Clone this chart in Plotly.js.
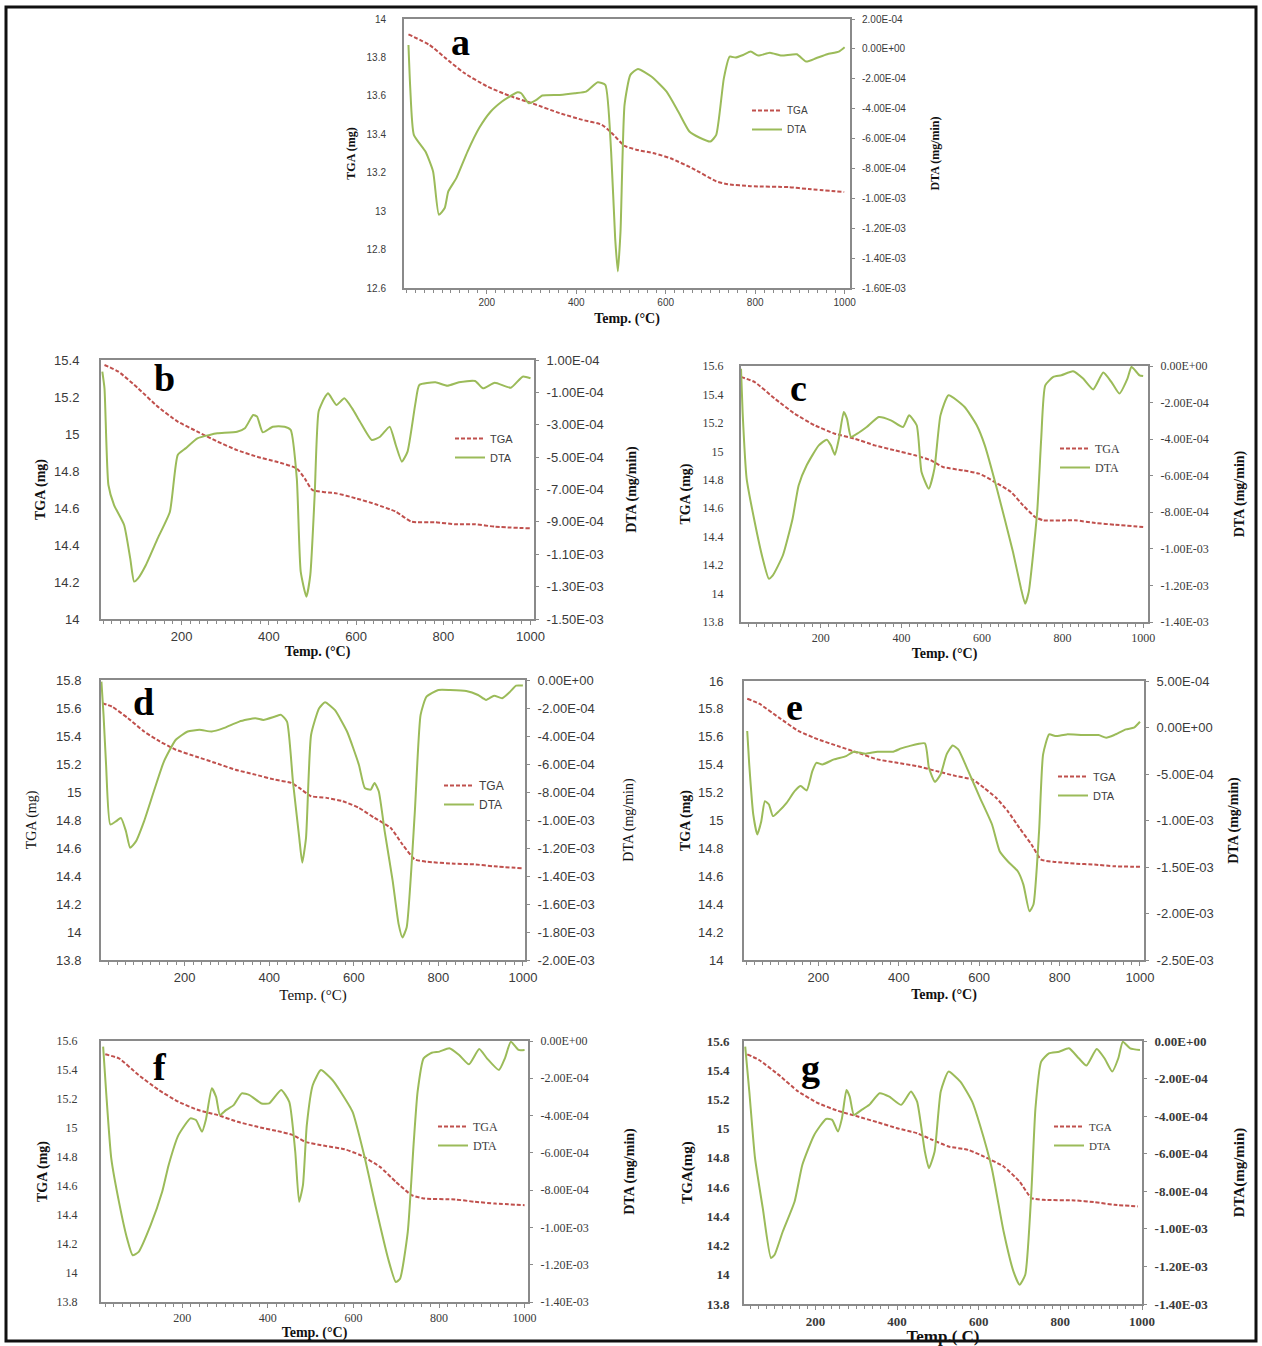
<!DOCTYPE html>
<html><head><meta charset="utf-8">
<script src="https://cdn.plot.ly/plotly-3.0.1.min.js"></script>
<style>html,body{margin:0;padding:0;background:#fff}</style>
</head><body><div id="chart" style="width:1262px;height:1346px"></div>
<script>
// ---------------- DATA ----------------
const xTickVals = [200, 400, 600, 800, 1000];

// a
const aTgaT = [25,72,106,149,200,251,303,363,414,457,478,508,534,576,611,662,713,739,790,876,919,999];
const aTga  = [13.92,13.865,13.80,13.72,13.65,13.60,13.56,13.51,13.475,13.45,13.41,13.34,13.32,13.30,13.275,13.22,13.155,13.14,13.13,13.125,13.115,13.10];
const aDtaT = [25,29,37,63,80,93,106,114,132,157,183,209,234,251,269,277,294,311,324,363,397,422,448,465,478,487,493,499,508,521,538,568,602,628,653,675,700,713,730,743,756,773,790,807,833,859,893,914,936,961,987,1000];
const aDta  = [2.6e-5,-2.63e-4,-5.75e-4,-6.87e-4,-8.2e-4,-1.11e-3,-1.065e-3,-9.54e-4,-8.65e-4,-6.87e-4,-5.3e-4,-4.19e-4,-3.52e-4,-3.19e-4,-2.9e-4,-2.97e-4,-3.64e-4,-3.41e-4,-3.12e-4,-3.08e-4,-2.97e-4,-2.86e-4,-2.23e-4,-2.41e-4,-6.87e-4,-1.266e-3,-1.489e-3,-1.222e-3,-3.75e-4,-1.74e-4,-1.34e-4,-1.85e-4,-2.86e-4,-4.19e-4,-5.53e-4,-5.93e-4,-6.2e-4,-5.75e-4,-1.97e-4,-5.2e-5,-5.8e-5,-4.1e-5,-1.8e-5,-4.5e-5,-2.5e-5,-4.5e-5,-3.6e-5,-8.5e-5,-6.3e-5,-3.6e-5,-1.8e-5,1.1e-5];
const aDtaTicks = [2e-4,0,-2e-4,-4e-4,-6e-4,-8e-4,-1e-3,-1.2e-3,-1.4e-3,-1.6e-3];

// b
const bTgaT = [23,55,100,145,191,236,282,327,373,418,464,482,500,555,600,645,691,727,782,827,873,918,1000];
const bTga  = [15.373,15.337,15.247,15.148,15.067,15.013,14.959,14.913,14.877,14.85,14.814,14.76,14.697,14.679,14.652,14.62,14.58,14.526,14.523,14.512,14.512,14.499,14.49];
const bDtaT = [18,23,32,45,68,82,91,100,118,145,173,191,209,236,264,282,327,345,364,373,386,409,436,450,464,473,486,495,505,514,527,536,555,573,591,609,636,655,677,691,705,718,736,745,782,809,836,873,891,918,955,982,1000];
const bDta  = [2.8e-5,-7.5e-5,-6.72e-4,-7.96e-4,-9.19e-4,-1.125e-3,-1.269e-3,-1.249e-3,-1.166e-3,-1.002e-3,-8.37e-4,-4.87e-4,-4.46e-4,-3.84e-4,-3.63e-4,-3.53e-4,-3.43e-4,-3.22e-4,-2.4e-4,-2.5e-4,-3.47e-4,-3.12e-4,-3.12e-4,-3.32e-4,-6.31e-4,-1.208e-3,-1.362e-3,-1.228e-3,-7.34e-4,-2.19e-4,-1.37e-4,-1.06e-4,-1.78e-4,-1.37e-4,-1.99e-4,-2.81e-4,-3.94e-4,-3.74e-4,-3.12e-4,-4.25e-4,-5.28e-4,-4.66e-4,-1.68e-4,-5.4e-5,-3.8e-5,-5.9e-5,-3.8e-5,-3e-5,-7.5e-5,-4e-5,-7.1e-5,-3e-6,-1.3e-5];
const bDtaTicks = [1e-4,-1e-4,-3e-4,-5e-4,-7e-4,-9e-4,-1.1e-3,-1.3e-3,-1.5e-3];

// c
const cTgaT = [2,36,86,135,185,235,284,334,384,434,473,503,553,593,632,672,702,732,752,831,881,930,1000];
const cTga  = [15.523,15.487,15.37,15.265,15.183,15.124,15.089,15.042,15.007,14.972,14.937,14.89,14.866,14.843,14.784,14.714,14.62,14.538,14.515,14.515,14.496,14.484,14.468];
const cDtaT = [2,6,16,36,56,71,81,106,130,145,165,195,215,225,235,245,257,265,275,294,314,344,374,404,419,438,450,468,482,497,517,557,587,607,637,677,697,707,716,737,747,757,777,797,826,851,876,901,921,941,961,971,991,1000];
const cDta  = [-1.5e-5,-2.52e-4,-6.16e-4,-8.53e-4,-1.054e-3,-1.163e-3,-1.145e-3,-1.035e-3,-8.35e-4,-6.53e-4,-5.43e-4,-4.34e-4,-4.03e-4,-4.34e-4,-4.85e-4,-3.97e-4,-2.52e-4,-2.88e-4,-3.88e-4,-3.65e-4,-3.34e-4,-2.79e-4,-2.97e-4,-3.34e-4,-2.7e-4,-3.24e-4,-5.8e-4,-6.71e-4,-5.61e-4,-2.7e-4,-1.6e-4,-2.24e-4,-3.24e-4,-4.34e-4,-6.71e-4,-1.017e-3,-1.218e-3,-1.3e-3,-1.236e-3,-7.98e-4,-3.97e-4,-1.06e-4,-6e-5,-5.1e-5,-2.9e-5,-6.9e-5,-1.28e-4,-3.6e-5,-8.7e-5,-1.51e-4,-6.9e-5,-5e-6,-5.1e-5,-5.5e-5];
const cDtaTicks = [0,-2e-4,-4e-4,-6e-4,-8e-4,-1e-3,-1.2e-3,-1.4e-3];

// d
const dTgaT = [5,28,66,104,141,179,226,273,320,367,414,452,471,499,536,574,612,649,687,715,744,772,838,885,932,998];
const dTga  = [15.634,15.61,15.527,15.432,15.361,15.302,15.254,15.207,15.159,15.124,15.088,15.065,15.029,14.97,14.958,14.934,14.887,14.815,14.744,14.626,14.519,14.502,14.488,14.483,14.469,14.455];
const dDtaT = [3,8,14,24,38,49,61,71,85,104,127,151,179,207,235,264,292,329,367,386,414,428,442,456,471,478,487,499,518,532,555,584,612,626,640,649,659,673,692,706,715,725,744,758,772,800,828,866,894,913,932,951,970,984,1000];
const dDta  = [-1.2e-5,-2.49e-4,-6.05e-4,-1.032e-3,-1.008e-3,-9.85e-4,-1.08e-3,-1.198e-3,-1.151e-3,-1.008e-3,-7.95e-4,-5.81e-4,-4.27e-4,-3.68e-4,-3.56e-4,-3.68e-4,-3.44e-4,-2.97e-4,-2.73e-4,-2.85e-4,-2.61e-4,-2.49e-4,-2.97e-4,-7.24e-4,-1.127e-3,-1.305e-3,-1.127e-3,-3.91e-4,-2.02e-4,-1.59e-4,-2.14e-4,-3.68e-4,-6.05e-4,-7.71e-4,-7.83e-4,-7.35e-4,-7.95e-4,-1.079e-3,-1.435e-3,-1.744e-3,-1.839e-3,-1.768e-3,-9.61e-4,-2.49e-4,-1.19e-4,-7.1e-5,-7.1e-5,-7.8e-5,-1.07e-4,-1.42e-4,-1.12e-4,-1.3e-4,-8.3e-5,-4e-5,-4e-5];
const dDtaTicks = [0,-2e-4,-4e-4,-6e-4,-8e-4,-1e-3,-1.2e-3,-1.4e-3,-1.6e-3,-1.8e-3,-2e-3];

// e
const eTgaT = [23,53,102,151,200,249,298,347,396,445,494,543,583,612,642,671,700,730,754,789,838,887,936,1000];
const eTga  = [15.873,15.837,15.737,15.641,15.581,15.533,15.486,15.438,15.414,15.39,15.354,15.318,15.294,15.234,15.163,15.067,14.947,14.828,14.72,14.703,14.691,14.684,14.672,14.668];
const eDtaT = [23,28,38,48,58,67,77,87,102,121,141,156,171,185,195,210,239,269,288,318,347,386,406,426,465,475,490,504,519,534,548,573,602,632,651,671,696,710,725,735,749,759,774,789,818,858,897,916,936,965,985,1000];
const eDta  = [-3.8e-5,-3.97e-4,-9.35e-4,-1.151e-3,-1.007e-3,-7.92e-4,-8.28e-4,-9.53e-4,-8.99e-4,-8.1e-4,-6.84e-4,-6.3e-4,-6.77e-4,-4.69e-4,-3.8e-4,-3.97e-4,-3.43e-4,-3.07e-4,-2.6e-4,-2.82e-4,-2.6e-4,-2.6e-4,-2.25e-4,-2e-4,-1.71e-4,-4.33e-4,-5.84e-4,-5.05e-4,-2.89e-4,-1.93e-4,-2.36e-4,-4.69e-4,-7.56e-4,-1.043e-3,-1.33e-3,-1.438e-3,-1.545e-3,-1.689e-3,-1.976e-3,-1.904e-3,-1.115e-3,-2.89e-4,-7.4e-5,-9.2e-5,-7.4e-5,-8.1e-5,-8.1e-5,-1.1e-4,-8.1e-5,-2e-5,-2e-6,6.2e-5];
const eDtaTicks = [5e-4,0,-5e-4,-1e-3,-1.5e-3,-2e-3,-2.5e-3];

// f
const fTgaT = [20,52,98,145,191,237,283,329,376,422,459,487,533,579,616,662,699,736,764,838,884,931,1000];
const fTga  = [15.508,15.48,15.365,15.262,15.181,15.124,15.089,15.043,15.008,14.979,14.951,14.905,14.877,14.854,14.813,14.732,14.629,14.537,14.514,14.507,14.491,14.479,14.468];
const fDtaT = [15,22,34,52,71,84,98,126,153,168,191,219,232,246,255,269,279,288,302,320,339,357,385,403,431,450,464,473,482,491,505,524,551,570,598,625,653,681,699,709,727,741,750,764,783,801,824,847,870,894,912,940,954,968,986,1000];
const fDta  = [-3e-5,-2.72e-4,-6.3e-4,-8.63e-4,-1.06e-3,-1.149e-3,-1.131e-3,-9.88e-4,-8.09e-4,-6.66e-4,-5.05e-4,-4.15e-4,-4.24e-4,-4.87e-4,-4.24e-4,-2.54e-4,-3e-4,-3.97e-4,-3.71e-4,-3.44e-4,-2.81e-4,-2.9e-4,-3.35e-4,-3.35e-4,-2.63e-4,-3.26e-4,-5.94e-4,-8.63e-4,-7.73e-4,-4.51e-4,-2.36e-4,-1.56e-4,-2.09e-4,-2.72e-4,-3.8e-4,-6.12e-4,-8.99e-4,-1.167e-3,-1.293e-3,-1.275e-3,-1.024e-3,-5.41e-4,-2.72e-4,-9.3e-5,-6.3e-5,-5.7e-5,-3.9e-5,-7.5e-5,-1.25e-4,-4.3e-5,-9.3e-5,-1.56e-4,-9.3e-5,-4e-6,-4.8e-5,-4.8e-5];
const fDtaTicks = [0,-2e-4,-4e-4,-6e-4,-8e-4,-1e-3,-1.2e-3,-1.4e-3];

// g
const gTgaT = [33,62,110,158,207,255,304,352,400,449,487,526,574,613,661,700,729,758,835,884,932,990];
const gTga  = [15.509,15.47,15.368,15.254,15.174,15.122,15.083,15.044,15.003,14.969,14.923,14.878,14.855,14.809,14.741,14.638,14.525,14.513,14.509,14.497,14.479,14.468];
const gDtaT = [28,38,52,71,91,100,120,149,168,197,226,241,255,265,276,284,294,313,332,357,381,410,434,449,468,478,492,507,526,555,584,603,632,661,685,700,714,729,739,753,772,797,821,845,864,889,908,927,942,953,971,995];
const gDta  = [-3e-5,-2.69e-4,-6.24e-4,-8.9e-4,-1.155e-3,-1.138e-3,-1.014e-3,-8.54e-4,-6.59e-4,-5e-4,-4.15e-4,-4.2e-4,-4.82e-4,-4.11e-4,-2.61e-4,-2.96e-4,-3.93e-4,-3.67e-4,-3.4e-4,-2.78e-4,-2.96e-4,-3.4e-4,-2.69e-4,-3.23e-4,-5.88e-4,-6.77e-4,-5.88e-4,-2.69e-4,-1.63e-4,-2.16e-4,-3.23e-4,-4.47e-4,-6.77e-4,-1.014e-3,-1.226e-3,-1.297e-3,-1.244e-3,-8.01e-4,-3.58e-4,-1.1e-4,-6.6e-5,-5.7e-5,-3.9e-5,-9.2e-5,-1.31e-4,-4.3e-5,-9.2e-5,-1.63e-4,-9.2e-5,-4e-6,-3.9e-5,-4.8e-5];
const gDtaTicks = [0,-2e-4,-4e-4,-6e-4,-8e-4,-1e-3,-1.2e-3,-1.4e-3];

// ---------------- STYLE / LAYOUT ----------------
const W = 1262, H = 1346;
const SANS = 'Liberation Sans, Arial, sans-serif';
const SERIF = 'Liberation Serif, Times New Roman, serif';
const TGA_COLOR = '#c0504d', DTA_COLOR = '#9bbb59', FRAME = '#8a8a8a', TICKC = '#3a3a3a';

function eLabel(v){
  if (v === 0) return '0.00E+00';
  const s = v.toExponential(2).split('e');
  const sign = s[1][0] === '-' ? '-' : '+';
  return s[0] + 'E' + sign + s[1].replace(/[+-]/,'').padStart(2,'0');
}

const panels = [
  {L:'a', tt:aTgaT, tg:aTga, dt:aDtaT, dd:aDta, ticks:aDtaTicks, box:[404,19,850,288], xr:[15,1012], yl:[12.6,14], yr:[-1.6e-3,2e-4],
   tf:{family:SANS,size:10}, ttf:{family:SERIF,size:12,weight:'bold'}, xtf:{family:SERIF,size:14,weight:'bold'}, lf:{family:SANS,size:10},
   xt:'Temp. (°C)', ylt:'TGA (mg)', yrt:'DTA (mg/min)', ls:14, rs:5, sl:8, sr:25, sx:6, leg:[789,107], letter:[460,42]},
  {L:'b', tt:bTgaT, tg:bTga, dt:bDtaT, dd:bDta, ticks:bDtaTicks, box:[101,360,534,619], xr:[15,1008], yl:[14,15.4], yr:[-1.5e-3,1e-4],
   tf:{family:SANS,size:13}, ttf:{family:SERIF,size:14,weight:'bold'}, xtf:{family:SERIF,size:14,weight:'bold'}, lf:{family:SANS,size:11},
   xt:'Temp. (°C)', ylt:'TGA (mg)', yrt:'DTA (mg/min)', ls:17, rs:5, sl:5, sr:23, sx:4, leg:[492,435], letter:[164,378]},
  {L:'c', tt:cTgaT, tg:cTga, dt:cDtaT, dd:cDta, ticks:cDtaTicks, box:[741,366,1148,622], xr:[2,1012], yl:[13.8,15.6], yr:[-1.4e-3,0],
   tf:{family:SERIF,size:12}, ttf:{family:SERIF,size:14,weight:'bold'}, xtf:{family:SERIF,size:14,weight:'bold'}, lf:{family:SERIF,size:12},
   xt:'Temp. (°C)', ylt:'TGA (mg)', yrt:'DTA (mg/min)', ls:13, rs:5, sl:9, sr:26, sx:4, leg:[1097,445], letter:[798,388]},
  {L:'d', tt:dTgaT, tg:dTga, dt:dDtaT, dd:dDta, ticks:dDtaTicks, box:[101,680,525,960], xr:[2,1005], yl:[13.8,15.8], yr:[-2e-3,0],
   tf:{family:SANS,size:13}, ttf:{family:SERIF,size:14}, xtf:{family:SERIF,size:15}, lf:{family:SANS,size:12},
   xt:'Temp. (°C)', ylt:'TGA (mg)', yrt:'DTA (mg/min)', ls:15, rs:5, sl:16, sr:29, sx:6, leg:[481,782], letter:[143,702]},
  {L:'e', tt:eTgaT, tg:eTga, dt:eDtaT, dd:eDta, ticks:eDtaTicks, box:[744,681,1144,960], xr:[15,1010], yl:[14,16], yr:[-2.5e-3,5e-4],
   tf:{family:SANS,size:13}, ttf:{family:SERIF,size:14,weight:'bold'}, xtf:{family:SERIF,size:14,weight:'bold'}, lf:{family:SANS,size:11},
   xt:'Temp. (°C)', ylt:'TGA (mg)', yrt:'DTA (mg/min)', ls:16, rs:5, sl:4, sr:15, sx:6, leg:[1095,773], letter:[794,707]},
  {L:'f', tt:fTgaT, tg:fTga, dt:fDtaT, dd:fDta, ticks:fDtaTicks, box:[101,1041,528,1302], xr:[10,1008], yl:[13.8,15.6], yr:[-1.4e-3,0],
   tf:{family:SERIF,size:12}, ttf:{family:SERIF,size:14,weight:'bold'}, xtf:{family:SERIF,size:14,weight:'bold'}, lf:{family:SERIF,size:12},
   xt:'Temp. (°C)', ylt:'TGA (mg)', yrt:'DTA (mg/min)', ls:19, rs:5, sl:6, sr:36, sx:3, leg:[475,1123], letter:[160,1067]},
  {L:'g', tt:gTgaT, tg:gTga, dt:gDtaT, dd:gDta, ticks:gDtaTicks, box:[744,1041,1142,1304], xr:[25,1000], yl:[13.8,15.6], yr:[-1.4e-3,0],
   tf:{family:SERIF,size:13,weight:'bold'}, ttf:{family:SERIF,size:15,weight:'bold'}, xtf:{family:SERIF,size:17,weight:'bold'}, lf:{family:SERIF,size:11},
   xt:'Temp.( C)', ylt:'TGA(mg)', yrt:'DTA(mg/min)', ls:10, rs:5, sl:10, sr:26, sx:2, leg:[1091,1123], letter:[810,1068]}
];

const traces = [];
const layout = {
  width: W, height: H, margin:{l:0,r:0,t:0,b:0}, paper_bgcolor:'#fff', plot_bgcolor:'#fff',
  showlegend:true, annotations:[], shapes:[]
};

panels.forEach((p, i) => {
  const xn = i + 1, yl = 2*i + 1, yr = 2*i + 2;
  const xid = xn === 1 ? 'x' : 'x' + xn;
  const ylid = yl === 1 ? 'y' : 'y' + yl;
  const yrid = 'y' + yr;
  const legId = i === 0 ? 'legend' : 'legend' + (i + 1);
  const [x0, y0, x1, y1] = p.box;
  const tickFont = Object.assign({color:TICKC}, p.tf);

  traces.push({x:p.tt, y:p.tg, xaxis:xid, yaxis:ylid, name:'TGA', legend:legId, mode:'lines',
    line:{color:TGA_COLOR, width:2, dash:'4px,2px', shape:'spline', smoothing:0.5}});
  traces.push({x:p.dt, y:p.dd, xaxis:xid, yaxis:yrid, name:'DTA', legend:legId, mode:'lines',
    line:{color:DTA_COLOR, width:2, shape:'spline', smoothing:0.5}});

  layout[xn === 1 ? 'xaxis' : 'xaxis' + xn] = {
    domain:[x0/W, x1/W], anchor:ylid, range:p.xr, tickmode:'array', tickvals:xTickVals,
    showgrid:false, zeroline:false, showline:true, mirror:true, linecolor:FRAME, linewidth:2,
    ticks:'outside', ticklen:4, tickcolor:FRAME, tickfont:tickFont,
    minor:{dtick:20, tick0:0, ticks:'outside', ticklen:3, tickcolor:FRAME},
    title:{text:p.xt, font:Object.assign({color:'#111'}, p.xtf), standoff:p.sx}
  };
  layout[yl === 1 ? 'yaxis' : 'yaxis' + yl] = {
    domain:[1 - y1/H, 1 - y0/H], anchor:xid, range:p.yl, dtick:0.2, tick0:p.yl[0],
    showgrid:false, zeroline:false, showline:true, mirror:true, linecolor:FRAME, linewidth:2,
    ticks:'', tickfont:tickFont, ticklabelstandoff:p.ls,
    title:{text:p.ylt, font:Object.assign({color:'#111'}, p.ttf), standoff:p.sl}
  };
  layout['yaxis' + yr] = {
    overlaying:ylid, side:'right', anchor:xid, range:p.yr, tickmode:'array', tickvals:p.ticks,
    ticktext:p.ticks.map(eLabel), showgrid:false, zeroline:false, showline:false,
    ticks:'outside', ticklen:4, tickcolor:FRAME, tickfont:tickFont, ticklabelstandoff:p.rs,
    title:{text:p.yrt, font:Object.assign({color:'#111'}, p.ttf), standoff:p.sr}
  };
  layout[legId] = {
    x:(p.leg[0] - 42)/W, y:1 - (p.leg[1] - 11)/H, xanchor:'left', yanchor:'top',
    bgcolor:'rgba(0,0,0,0)', borderwidth:0, font:Object.assign({color:'#404040'}, p.lf),
    tracegroupgap:0, itemwidth:30
  };
  layout.annotations.push({xref:'paper', yref:'paper', x:p.letter[0]/W, y:1 - p.letter[1]/H,
    xanchor:'center', yanchor:'middle', showarrow:false, text:p.L,
    font:{family:SERIF, size:38, weight:'bold', color:'#000'}});
});

layout.shapes.push({type:'rect', xref:'paper', yref:'paper', x0:6/W, x1:1256/W, y0:1 - 1341/H, y1:1 - 7/H,
  line:{color:'#111', width:3}, fillcolor:'rgba(0,0,0,0)', layer:'above'});

Plotly.newPlot('chart', traces, layout, {displayModeBar:false, staticPlot:true});
</script>
</body></html>
